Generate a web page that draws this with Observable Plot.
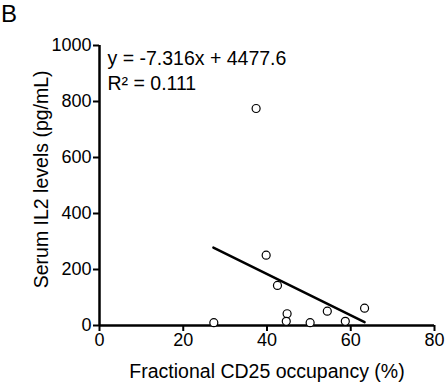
<!DOCTYPE html>
<html><head><meta charset="utf-8">
<script src="https://cdn.jsdelivr.net/npm/d3@7"></script>
<script src="https://cdn.jsdelivr.net/npm/@observablehq/plot@0.6"></script>
<style>
body{margin:0;background:#fff;font-family:"Liberation Sans",Arial,sans-serif;}
#wrap{position:relative;width:446px;height:389px;}
#lab{position:absolute;left:1px;top:0px;font-size:24px;line-height:28px;}
</style></head>
<body><div id="wrap"><div id="lab">B</div></div>
<script>
const occupancy = [27.3, 37.4, 39.8, 42.5, 44.8, 44.6, 50.3, 54.4, 58.7, 63.3];
const il2 = [10, 775, 251, 143, 42, 15, 10, 51, 15, 62];
const fitX = [27.2, 63.3];
const fitY = [278, 12];
const xTicks = [0, 20, 40, 60, 80];
const yTicks = [0, 200, 400, 600, 800, 1000];
const eqLines = ["y = -7.316x + 4477.6", "R² = 0.111"];
const xLabel = "Fractional CD25 occupancy (%)";
const yLabel = "Serum IL2 levels (pg/mL)";

const pts = occupancy.map((x, i) => ({x, y: il2[i]}));
const fit = fitX.map((x, i) => ({x, y: fitY[i]}));

const chart = Plot.plot({
  width: 446, height: 389,
  marginLeft: 99, marginRight: 12, marginTop: 45, marginBottom: 64,
  style: {fontFamily: "Liberation Sans, Arial, sans-serif", fontSize: "18px", color: "#000", background: "#fff", overflow: "visible"},
  x: {domain: [0, 80]},
  y: {domain: [0, 1000]},
  marks: [
    Plot.axisX({ticks: xTicks, tickSize: 6, tickPadding: 2, fontSize: 18, strokeWidth: 2, tickFormat: d => String(d), label: null}),
    Plot.axisY({ticks: yTicks, tickSize: 6, tickPadding: 2, fontSize: 18, strokeWidth: 2, tickFormat: d => String(d), label: null}),
    Plot.text([xLabel], {x: 40, y: 0, text: d => d, dy: 46, fontSize: 19.5, fill: "#000"}),
    Plot.text([yLabel], {x: 0, y: 522, text: d => d, dx: -58, rotate: -90, fontSize: 19.5, fill: "#000"}),
    Plot.ruleX([0], {y1: 0, y2: 1000, strokeWidth: 2.5}),
    Plot.ruleY([0], {x1: 0, x2: 80, strokeWidth: 2.5}),
    Plot.line(fit, {x: "x", y: "y", strokeWidth: 2.5, stroke: "#000"}),
    Plot.dot(pts, {x: "x", y: "y", r: 4, stroke: "#000", strokeWidth: 1.2, fill: "#fff"}),
    Plot.text(eqLines, {x: 0, y: [953, 864], text: d => d, textAnchor: "start", dx: 8, fontSize: 19.5, fill: "#000"})
  ]
});
document.getElementById("wrap").appendChild(chart);
</script></body></html>
